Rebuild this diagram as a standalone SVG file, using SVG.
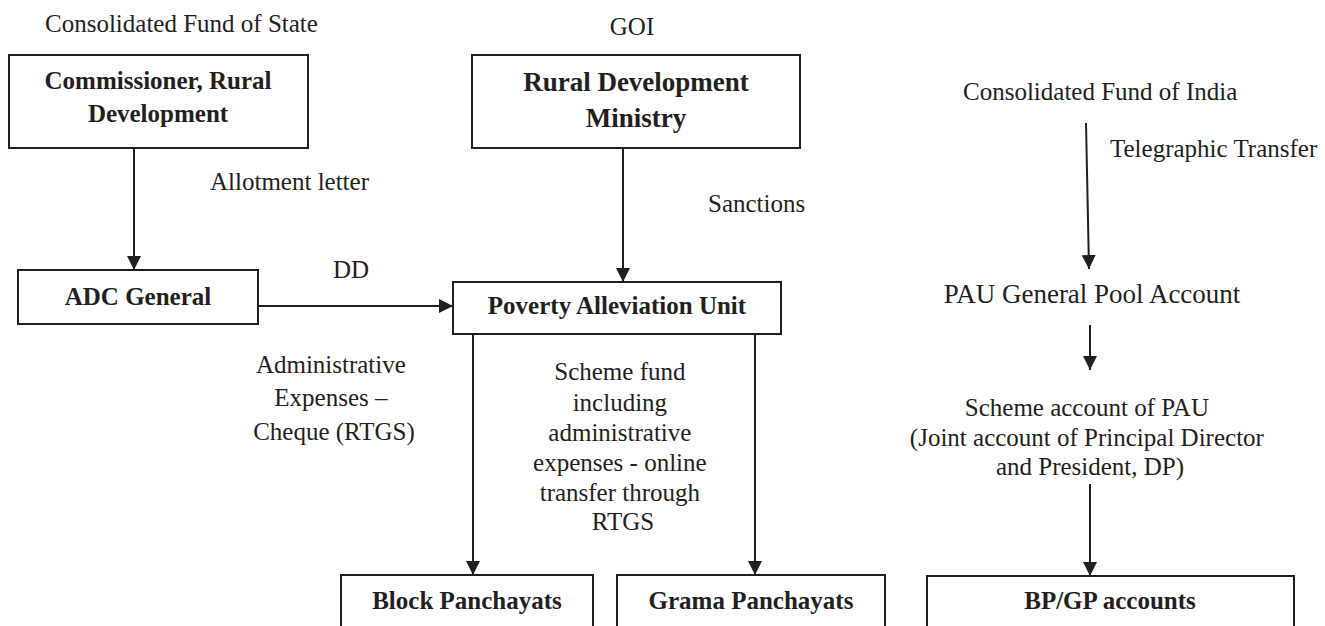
<svg xmlns="http://www.w3.org/2000/svg" width="1325" height="626" viewBox="0 0 1325 626">
  <style>
    text { font-family: "Liberation Serif", "Times New Roman", serif; fill: #231f20; font-size: 25px; }
    .b { font-weight: bold; }
    .c { text-anchor: middle; }
    .big { font-size: 27px; }
    .box { fill: #ffffff; stroke: #231f20; stroke-width: 2; }
    .ln { fill: none; stroke: #231f20; stroke-width: 2; }
  </style>
  <defs>
    <marker id="arr" markerUnits="userSpaceOnUse" markerWidth="14" markerHeight="16" refX="14" refY="7" orient="auto">
      <path d="M0,0 L14,7 L0,14 Z" fill="#231f20"/>
    </marker>
  </defs>
  <rect width="1325" height="626" fill="#ffffff"/>

  <!-- free-standing labels -->
  <g id="labels">
    <text x="45" y="32">Consolidated Fund of State</text>
    <text x="632" y="35" class="c">GOI</text>
    <text x="210" y="190">Allotment letter</text>
    <text x="708" y="212">Sanctions</text>
    <text x="333" y="278">DD</text>
    <text class="c" x="334">
      <tspan x="334" y="373">Administrative</tspan>
      <tspan x="334" y="406">Expenses –</tspan>
      <tspan x="334" y="440">Cheque (RTGS)</tspan>
    </text>
    <text class="c" x="623">
      <tspan x="623" y="380">Scheme fund</tspan>
      <tspan x="623" y="411">including</tspan>
      <tspan x="623" y="441">administrative</tspan>
      <tspan x="623" y="471">expenses - online</tspan>
      <tspan x="623" y="501">transfer through</tspan>
      <tspan x="623" y="530">RTGS</tspan>
    </text>
    <text x="963" y="100">Consolidated Fund of India</text>
    <text x="1110" y="157">Telegraphic Transfer</text>
    <text x="1092" y="303" class="c big">PAU General Pool Account</text>
    <text class="c" x="1090">
      <tspan x="1090" y="416">Scheme account of PAU</tspan>
      <tspan x="1090" y="446">(Joint account of Principal Director</tspan>
      <tspan x="1090" y="475">and President, DP)</tspan>
    </text>
  </g>

  <!-- connectors -->
  <g id="connectors">
    <line class="ln" x1="134" y1="148" x2="134" y2="270" marker-end="url(#arr)"/>
    <line class="ln" x1="623" y1="148" x2="623" y2="282" marker-end="url(#arr)"/>
    <line class="ln" x1="258" y1="306" x2="453" y2="306" marker-end="url(#arr)"/>
    <line class="ln" x1="473" y1="334" x2="473" y2="575" marker-end="url(#arr)"/>
    <line class="ln" x1="755" y1="334" x2="755" y2="575" marker-end="url(#arr)"/>
    <line class="ln" x1="1086" y1="123" x2="1089" y2="269" marker-end="url(#arr)"/>
    <line class="ln" x1="1090" y1="325" x2="1090" y2="370" marker-end="url(#arr)"/>
    <line class="ln" x1="1090" y1="484" x2="1090" y2="576" marker-end="url(#arr)"/>
  </g>

  <!-- nodes -->
  <g id="commissioner">
    <rect class="box" x="9" y="55" width="299" height="93"/>
    <text class="b c" x="158" y="89">Commissioner, Rural</text>
    <text class="b c" x="158" y="122">Development</text>
  </g>
  <g id="ministry">
    <rect class="box" x="472" y="55" width="328" height="93"/>
    <text class="b c big" x="636" y="91">Rural Development</text>
    <text class="b c big" x="636" y="127">Ministry</text>
  </g>
  <g id="adc">
    <rect class="box" x="18" y="270" width="240" height="54"/>
    <text class="b c" x="138" y="305">ADC General</text>
  </g>
  <g id="pau">
    <rect class="box" x="453" y="282" width="328" height="52"/>
    <text class="b c" x="617" y="314">Poverty Alleviation Unit</text>
  </g>
  <g id="block">
    <rect class="box" x="341" y="575" width="252" height="70"/>
    <text class="b c" x="467" y="609">Block Panchayats</text>
  </g>
  <g id="grama">
    <rect class="box" x="617" y="575" width="268" height="70"/>
    <text class="b c" x="751" y="609">Grama Panchayats</text>
  </g>
  <g id="bpgp">
    <rect class="box" x="927" y="576" width="367" height="70"/>
    <text class="b c" x="1110" y="609">BP/GP accounts</text>
  </g>
</svg>
